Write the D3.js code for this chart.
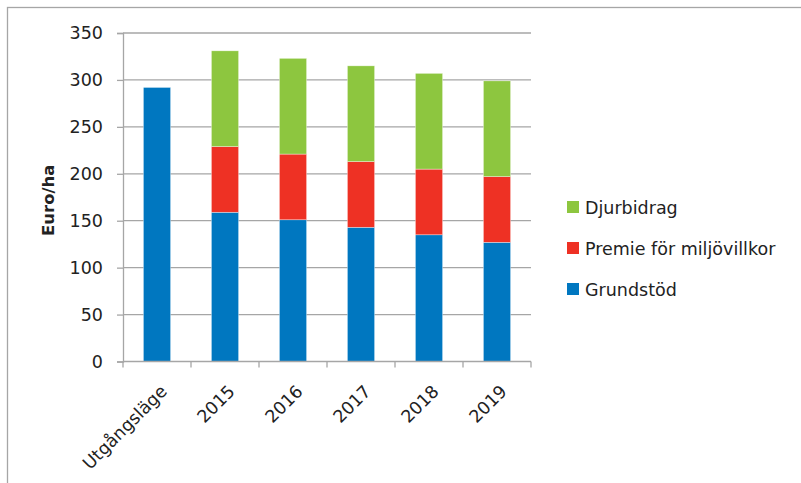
<!DOCTYPE html>
<html>
<head>
<meta charset="utf-8">
<script src="https://cdn.jsdelivr.net/npm/d3@7"></script>
<style>
  body { margin: 0; background: #fff; }
  text { font-family: "DejaVu Sans", sans-serif; fill: #222; }
</style>
</head>
<body>
<svg id="chart" width="801" height="483"></svg>
<script>
// data
var categories = ["Utgångsläge", "2015", "2016", "2017", "2018", "2019"];
var seriesNames = ["Grundstöd", "Premie för miljövillkor", "Djurbidrag"];
var grundstod = [292, 159, 151, 143, 135, 127];
var premie = [0, 70, 70, 70, 70, 70];
var djurbidrag = [0, 102, 102, 102, 102, 102];
var yTicks = [0, 50, 100, 150, 200, 250, 300, 350];

var colors = { "Grundstöd": "#0077c0", "Premie för miljövillkor": "#ee3124", "Djurbidrag": "#8dc63f" };
var gridColor = "#a6a6a6";

var pad = { left: 123, top: 33, right: 270, bottom: 121.5 };
var W = 801, H = 483;
var fontSize = 17.5;

var svg = d3.select("#chart");

// outer frame (cut off at right and bottom like the source)
svg.append("rect")
   .attr("x", 7.5).attr("y", 7.5)
   .attr("width", 1000).attr("height", 1000)
   .attr("fill", "none").attr("stroke", gridColor).attr("stroke-width", 1.3);

var table = categories.map(function(c, i) {
  return { cat: c, "Grundstöd": grundstod[i], "Premie för miljövillkor": premie[i], "Djurbidrag": djurbidrag[i] };
});
var stacked = d3.stack().keys(seriesNames)(table);

var x = d3.scaleBand().domain(categories).range([pad.left, W - pad.right]).paddingInner(0.6).paddingOuter(0.3);
var y = d3.scaleLinear().domain([0, 350]).range([H - pad.bottom, pad.top]);

// grid
svg.append("g").selectAll("line").data(yTicks.slice(1)).join("line")
   .attr("x1", pad.left).attr("x2", W - pad.right)
   .attr("y1", function(d) { return y(d); }).attr("y2", function(d) { return y(d); })
   .attr("stroke", gridColor).attr("stroke-width", 1.3);

// y axis
var yAxis = svg.append("g").attr("transform", "translate(" + pad.left + ",0)")
   .call(d3.axisLeft(y).tickValues(yTicks).tickSize(6).tickPadding(14));
yAxis.select(".domain").attr("stroke", gridColor).attr("stroke-width", 1.3);
yAxis.selectAll(".tick line").attr("stroke", gridColor).attr("stroke-width", 1.3);
yAxis.selectAll("text").attr("font-size", fontSize).attr("font-family", "'DejaVu Sans', sans-serif").attr("fill", "#222");

svg.append("text")
   .attr("transform", "translate(54," + ((pad.top + H - pad.bottom) / 2 + 3) + ") rotate(-90)")
   .attr("text-anchor", "middle")
   .attr("font-size", 16.5).attr("font-weight", "bold")
   .text("Euro/ha");

// bars
svg.append("g").selectAll("g").data(stacked).join("g")
   .attr("fill", function(d) { return colors[d.key]; })
  .selectAll("rect").data(function(d) { return d; }).join("rect")
   .attr("x", function(d) { return x(d.data.cat); })
   .attr("width", x.bandwidth())
   .attr("y", function(d) { return y(d[1]); })
   .attr("height", function(d) { return y(d[0]) - y(d[1]); })
   .attr("stroke", "#fff").attr("stroke-opacity", 0.6).attr("stroke-width", 0.6);

// x axis with ticks between categories
var xBase = H - pad.bottom;
var xa = svg.append("g");
xa.append("line")
  .attr("x1", pad.left).attr("x2", W - pad.right)
  .attr("y1", xBase).attr("y2", xBase)
  .attr("stroke", gridColor).attr("stroke-width", 1.3);
xa.selectAll("line.tk").data(d3.range(categories.length + 1)).join("line")
  .attr("class", "tk")
  .attr("x1", function(i) { return pad.left + i * (W - pad.right - pad.left) / categories.length; })
  .attr("x2", function(i) { return pad.left + i * (W - pad.right - pad.left) / categories.length; })
  .attr("y1", xBase).attr("y2", xBase + 6)
  .attr("stroke", gridColor).attr("stroke-width", 1.3);
xa.selectAll("text").data(categories).join("text")
  .attr("transform", function(d) {
    return "translate(" + (x(d) + x.bandwidth() / 2 + 11) + "," + (xBase + 31) + ") rotate(-45)";
  })
  .attr("text-anchor", "end")
  .attr("font-size", fontSize)
  .text(function(d) { return d; });

// legend, top to bottom: Djurbidrag, Premie, Grundstöd
var legendItems = seriesNames.slice().reverse();
var lg = svg.append("g").selectAll("g").data(legendItems).join("g")
  .attr("transform", function(d, i) { return "translate(567," + (207 + i * 41) + ")"; });
lg.append("rect").attr("x", 0).attr("y", -6).attr("width", 12).attr("height", 12)
  .attr("fill", function(d) { return colors[d]; });
lg.append("text").attr("x", 18).attr("y", 6.5).attr("font-size", fontSize).text(function(d) { return d; });
</script>
</body>
</html>
